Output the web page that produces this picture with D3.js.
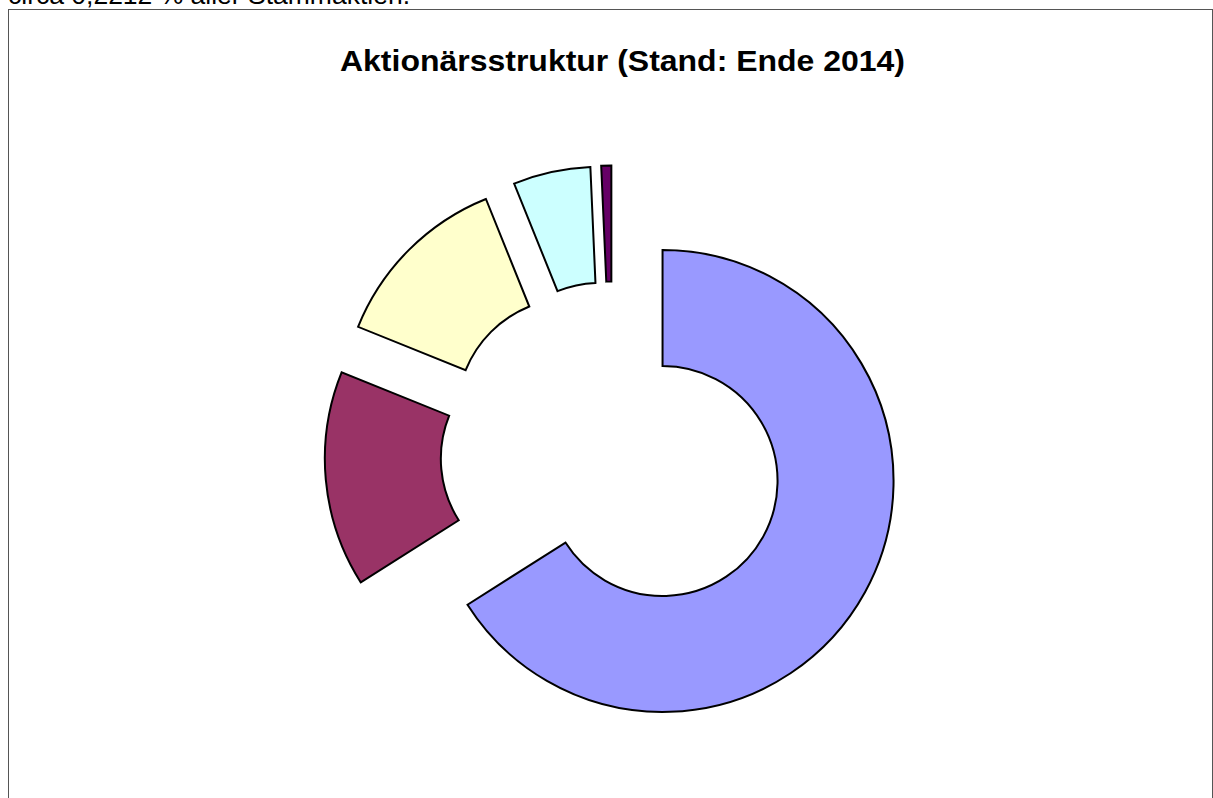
<!DOCTYPE html>
<html>
<head>
<meta charset="utf-8">
<script src="https://cdn.jsdelivr.net/npm/d3@7"></script>
<style>
  html, body { margin: 0; padding: 0; background: #fff; }
  svg { display: block; }
</style>
</head>
<body>
<svg id="chart" width="1213" height="798"></svg>
<script>
// Data
const categories = ["A", "B", "C", "D", "E"];
const shares = [66.0, 15.1, 12.8, 5.4, 0.7];
const colors = ["#9999FF", "#993366", "#FFFFCC", "#CCFFFF", "#660066"];
const title = "Aktionärsstruktur (Stand: Ende 2014)";
const topNote = "circa 0,2212 % aller Stammaktien.";

const svg = d3.select("#chart");

// note above the frame (cut off by the page edge, as in the reference)
svg.append("text")
  .attr("x", 8).attr("y", 4)
  .attr("font-family", "Liberation Sans, Arial, sans-serif")
  .attr("font-size", 25)
  .attr("textLength", 402)
  .attr("lengthAdjust", "spacingAndGlyphs")
  .attr("fill", "#000")
  .text(topNote);

// chart frame
svg.append("rect")
  .attr("x", 8.5).attr("y", 9.5)
  .attr("width", 1204).attr("height", 800)
  .attr("fill", "#fff")
  .attr("stroke", "#555")
  .attr("stroke-width", 1);

svg.append("text")
  .attr("x", 340).attr("y", 71)
  .attr("font-family", "Liberation Sans, Arial, sans-serif")
  .attr("font-weight", "bold")
  .attr("font-size", 29)
  .attr("textLength", 565)
  .attr("lengthAdjust", "spacingAndGlyphs")
  .attr("fill", "#000")
  .text(title);

const cx = 612.6, cy = 453.5;
const outerR = 231, innerR = 115, explode = 57;

const pie = d3.pie().sort(null).value(d => d)(shares);
const arc = d3.arc().innerRadius(innerR).outerRadius(outerR);

const g = svg.append("g").attr("transform", `translate(${cx},${cy})`);

g.selectAll("path")
  .data(pie)
  .join("path")
  .attr("d", arc)
  .attr("fill", (d, i) => colors[i])
  .attr("stroke", "#000")
  .attr("stroke-width", 2)
  .attr("stroke-linejoin", "miter")
  .attr("transform", d => {
    const a = (d.startAngle + d.endAngle) / 2;
    return `translate(${explode * Math.sin(a)},${-explode * Math.cos(a)})`;
  });
</script>
</body>
</html>
